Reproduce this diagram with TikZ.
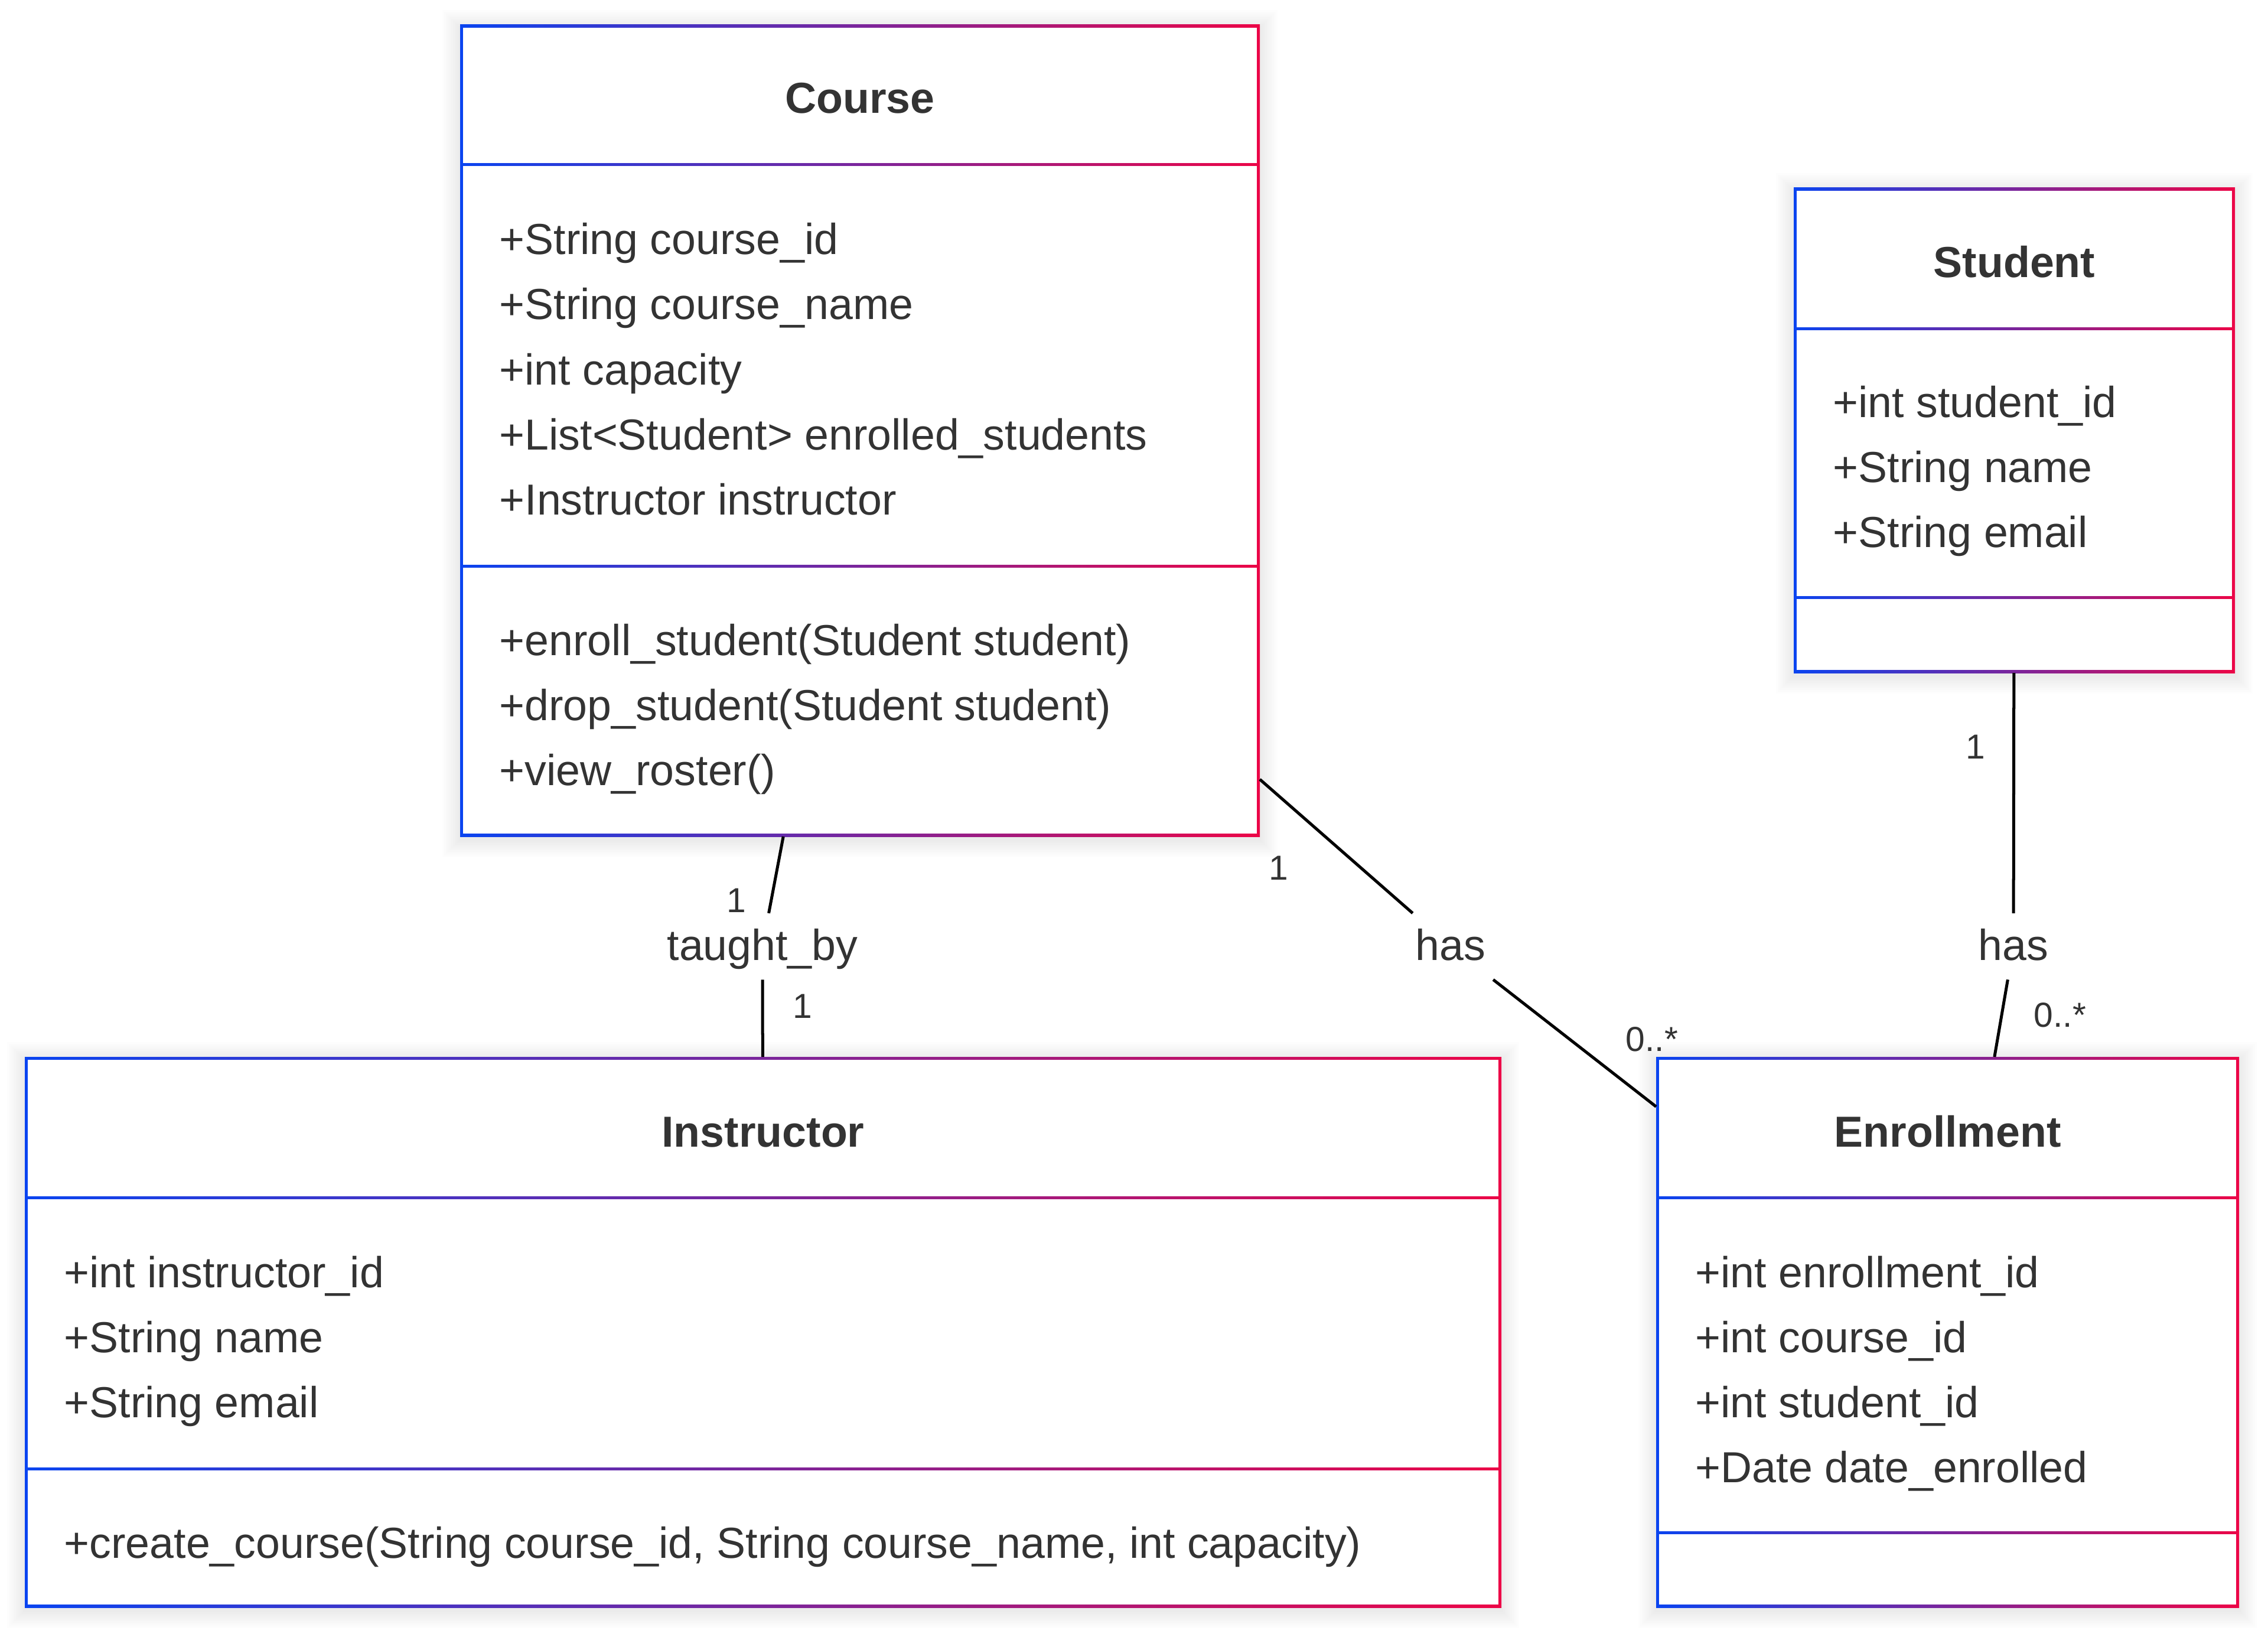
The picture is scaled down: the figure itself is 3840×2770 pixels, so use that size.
\documentclass[tikz,border=0pt]{standalone}
\usepackage{fontspec}
\setmainfont{Liberation Sans}
\usetikzlibrary{positioning}
\definecolor{umlblue}{HTML}{0A44F0}
\definecolor{umlred}{HTML}{EC0647}
\definecolor{umltext}{HTML}{333333}

\tikzset{
  classframe/.style={rectangle, inner sep=0pt, outer sep=0pt, left color=umlblue, right color=umlred},
  classtitle/.style={anchor=base, font=\fontsize{20.9}{25}\selectfont\bfseries, text=umltext, inner sep=0pt},
  member/.style={anchor=base west, font=\fontsize{20.9}{25}\selectfont, text=umltext, inner sep=0pt},
  rellabel/.style={font=\fontsize{20.9}{25}\selectfont, text=umltext, inner xsep=0.2cm, inner ysep=0pt,
    minimum height=1.11cm, text height=0.5cm, text depth=0.03cm},
  mult/.style={font=\fontsize{16.7}{20}\selectfont, text=umltext, inner sep=0pt},
  assoc/.style={draw=black, line width=0.05cm},
}

% class box: name, left, top, right, bottom, first divider, second divider
\newcommand{\umlclass}[7]{%
  \foreach \s in {3,6,...,30}
    \fill[black, opacity=0.006] (#2-\s,#3-\s+5) rectangle (#4+\s,#5+\s+5);
  \node[classframe, minimum width={(#4-#2)*0.01cm}, minimum height={(#5-#3)*0.01cm}] (#1) at ({(#2+#4)/2},{(#3+#5)/2}) {};
  \fill[white] (#2+5,#3+5) rectangle (#4-5,#6-2.5);
  \fill[white] (#2+5,#6+2.5) rectangle (#4-5,#7-2.5);
  \fill[white] (#2+5,#7+2.5) rectangle (#4-5,#5-5);
}

\begin{document}
\begin{tikzpicture}[x=0.01cm, y=-0.01cm]
    \useasboundingbox (0,0) rectangle (3840,2770);

    % Course
    \umlclass{course}{779}{42}{2133}{1416}{279}{958}
    \node[classtitle] (courseName) at (1456,192) {Course};
    \node[member] (courseA1) at (845,430) {+String course\_id};
    \node[member] (courseA2) at (845,540) {+String course\_name};
    \node[member] (courseA3) at (845,651) {+int capacity};
    \node[member] (courseA4) at (845,761) {+List<Student> enrolled\_students};
    \node[member] (courseA5) at (845,871) {+Instructor instructor};
    \node[member] (courseM1) at (845,1109) {+enroll\_student(Student student)};
    \node[member] (courseM2) at (845,1219) {+drop\_student(Student student)};
    \node[member] (courseM3) at (845,1329) {+view\_roster()};

    % Student
    \umlclass{student}{3037}{318}{3784}{1139}{556}{1011}
    \node[classtitle] (studentName) at (3410.5,469) {Student};
    \node[member] (studentA1) at (3103,706) {+int student\_id};
    \node[member] (studentA2) at (3103,816) {+String name};
    \node[member] (studentA3) at (3103,926) {+String email};

    % Instructor
    \umlclass{instructor}{42}{1789}{2542}{2721}{2027}{2486}
    \node[classtitle] (instructorName) at (1292,1941) {Instructor};
    \node[member] (instructorA1) at (108,2179) {+int instructor\_id};
    \node[member] (instructorA2) at (108,2289) {+String name};
    \node[member] (instructorA3) at (108,2399) {+String email};
    \node[member] (instructorM1) at (108,2637) {+create\_course(String course\_id, String course\_name, int capacity)};

    % Enrollment
    \umlclass{enrollment}{2804}{1789}{3791}{2721}{2027}{2594}
    \node[classtitle] (enrollmentName) at (3297.5,1941) {Enrollment};
    \node[member] (enrollmentA1) at (2870,2179) {+int enrollment\_id};
    \node[member] (enrollmentA2) at (2870,2289) {+int course\_id};
    \node[member] (enrollmentA3) at (2870,2399) {+int student\_id};
    \node[member] (enrollmentA4) at (2870,2509) {+Date date\_enrolled};

    % relations
    \node[rellabel] (taughtBy) at (1291,1602) {taught\_by};
    \node[rellabel] (hasCE) at (2456,1602) {has};
    \node[rellabel] (hasSE) at (3409,1602) {has};
    \draw[assoc] (course) -- (taughtBy) -- (instructor);
    \draw[assoc] (course) -- (hasCE) -- (enrollment);
    \draw[assoc] (student) -- (hasSE) -- (enrollment);

    % multiplicities
    \node[mult] (multTbC) at (1247,1524) {1};
    \node[mult] (multTbI) at (1359,1703) {1};
    \node[mult] (multCE1) at (2165,1469) {1};
    \node[mult] (multCE2) at (2797,1759) {0..*};
    \node[mult] (multSE1) at (3345,1264) {1};
    \node[mult] (multSE2) at (3488,1718) {0..*};
\end{tikzpicture}
\end{document}
